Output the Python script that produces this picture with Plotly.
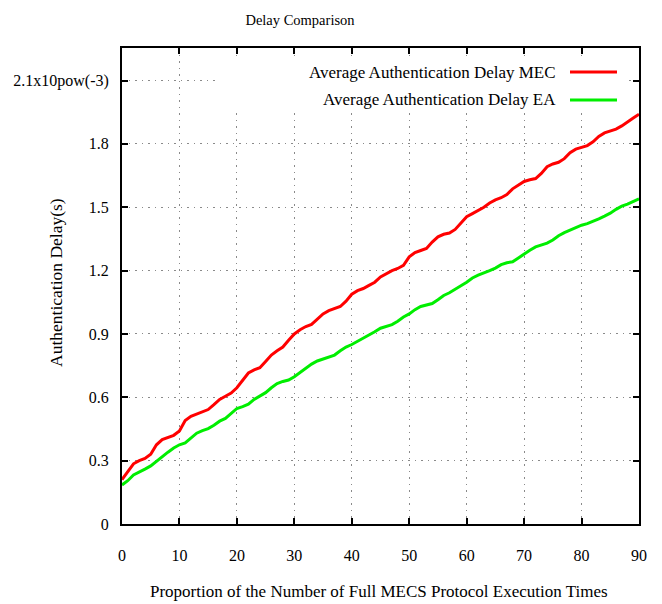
import plotly.graph_objects as go

x_vals = list(range(0, 91))

delay_mec = [
    0.21, 0.25, 0.285, 0.30, 0.31, 0.33, 0.375, 0.40, 0.41, 0.42,
    0.44, 0.49, 0.51, 0.52, 0.53, 0.542, 0.565, 0.59, 0.605, 0.62,
    0.645, 0.68, 0.715, 0.73, 0.74, 0.77, 0.80, 0.82, 0.838, 0.87,
    0.90, 0.92, 0.935, 0.945, 0.97, 0.995, 1.01, 1.02, 1.03, 1.055,
    1.088, 1.105, 1.115, 1.13, 1.145, 1.17, 1.187, 1.20, 1.21, 1.225,
    1.265, 1.285, 1.295, 1.305, 1.335, 1.36, 1.372, 1.378, 1.395, 1.425,
    1.455, 1.47, 1.484, 1.50, 1.52, 1.535, 1.545, 1.56, 1.587, 1.605,
    1.622, 1.63, 1.636, 1.66, 1.692, 1.705, 1.713, 1.73, 1.758, 1.775,
    1.785, 1.792, 1.81, 1.835, 1.852, 1.862, 1.87, 1.885, 1.905, 1.922,
    1.94,
]

delay_ea = [
    0.185, 0.205, 0.232, 0.248, 0.26, 0.275, 0.298, 0.32, 0.34, 0.36,
    0.375, 0.384, 0.405, 0.43, 0.442, 0.452, 0.468, 0.487, 0.50, 0.525,
    0.547, 0.556, 0.567, 0.59, 0.607, 0.622, 0.645, 0.665, 0.675, 0.682,
    0.697, 0.717, 0.738, 0.757, 0.772, 0.782, 0.79, 0.80, 0.82, 0.838,
    0.85, 0.865, 0.878, 0.892, 0.91, 0.927, 0.936, 0.944, 0.96, 0.98,
    0.995, 1.015, 1.03, 1.037, 1.044, 1.062, 1.082, 1.095, 1.11, 1.128,
    1.145, 1.165, 1.178, 1.188, 1.2, 1.212, 1.228, 1.237, 1.242, 1.26,
    1.279, 1.296, 1.312, 1.322, 1.33, 1.345, 1.365, 1.38, 1.393, 1.405,
    1.415, 1.422, 1.432, 1.445, 1.458, 1.472, 1.49, 1.505, 1.515, 1.528,
    1.54,
]

x_ticks = [0, 10, 20, 30, 40, 50, 60, 70, 80, 90]
y_ticks = [0, 0.3, 0.6, 0.9, 1.2, 1.5, 1.8, 2.1]
y_ticktext = ["0", "0.3", "0.6", "0.9", "1.2", "1.5", "1.8", "2.1x10pow(-3)"]

series_names = ["Average Authentication Delay MEC", "Average Authentication Delay EA"]
series_colors = ["#ff0000", "#00ee00"]

FONT = "Liberation Serif"

fig = go.Figure()
for name, ys, col in zip(series_names, [delay_mec, delay_ea], series_colors):
    fig.add_trace(go.Scatter(x=x_vals, y=ys, mode="lines", name=name,
                             line=dict(color=col, width=3), showlegend=False))

W, H = 662, 604
ml, mr, mt, mb = 122, 23, 48, 80
pw = W - ml - mr
ph = H - mt - mb


def px_x(px):
    return (px - ml) / pw


def px_y(py):
    return (H - mb - py) / ph


axis_common = dict(
    showline=True, linecolor="black", linewidth=2, mirror="allticks",
    ticks="inside", ticklen=6, tickwidth=1.5, tickcolor="black",
    showgrid=True, gridcolor="#8a8a8a", griddash="1.5px,5px", gridwidth=1.2,
    zeroline=False, tickfont=dict(family=FONT, size=16, color="black"),
)

fig.update_layout(
    width=W, height=H,
    margin=dict(l=ml, r=mr, t=mt, b=mb, autoexpand=False),
    paper_bgcolor="white", plot_bgcolor="white",
    title=dict(text="Delay Comparison", x=300 / W, xanchor="center",
               y=1 - 20 / H, yanchor="middle",
               font=dict(family=FONT, size=14.5, color="black")),
    xaxis=dict(range=[0, 90], tickvals=x_ticks, ticklabelstandoff=16, **axis_common),
    yaxis=dict(range=[0, 2.254], tickvals=y_ticks, ticktext=y_ticktext,
               ticklabelstandoff=8, **axis_common),
    showlegend=False,
)

# legend box (opaque, as in the original) with text to the left of the samples
fig.add_shape(type="rect", xref="paper", yref="paper",
              x0=px_x(215), x1=px_x(627), y0=px_y(108), y1=px_y(56),
              fillcolor="white", line=dict(width=0), layer="above")
for i, (name, col) in enumerate(zip(series_names, series_colors)):
    yy = px_y(72 + 28 * i)
    fig.add_annotation(xref="paper", yref="paper", x=px_x(558), y=yy,
                       xanchor="right", yanchor="middle", showarrow=False,
                       text=name, font=dict(family=FONT, size=17, color="black"))
    fig.add_shape(type="line", xref="paper", yref="paper",
                  x0=px_x(570), x1=px_x(617), y0=yy, y1=yy,
                  line=dict(color=col, width=3), layer="above")

# axis titles
fig.add_annotation(xref="paper", yref="paper", x=px_x(379), y=px_y(591),
                   xanchor="center", yanchor="middle", showarrow=False,
                   text="Proportion of the Number of Full MECS Protocol Execution Times",
                   font=dict(family=FONT, size=17, color="black"))
fig.add_annotation(xref="paper", yref="paper", x=px_x(56), y=px_y(283),
                   xanchor="center", yanchor="middle", showarrow=False, textangle=-90,
                   text="Authentication Delay(s)",
                   font=dict(family=FONT, size=17.5, color="black"))

fig.write_html("out.html")
